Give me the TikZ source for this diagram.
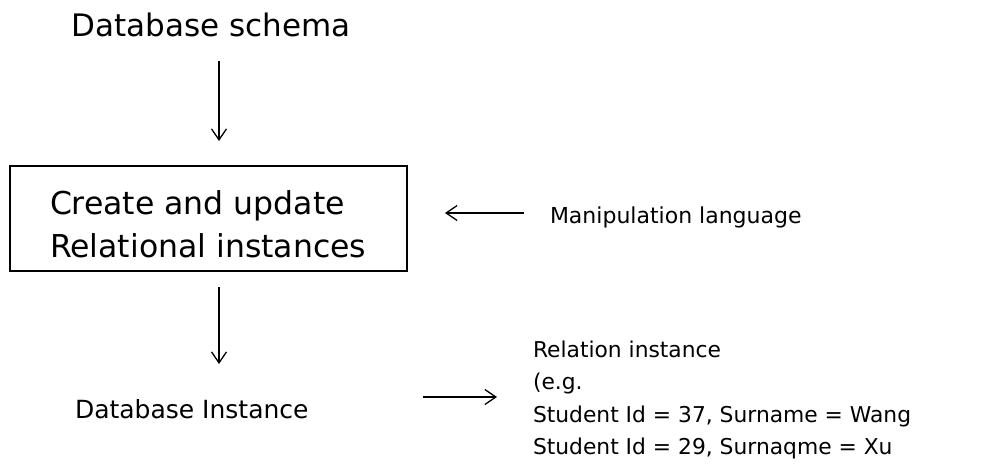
\documentclass[tikz,border=0pt]{standalone}
\usepackage{fontspec}
\setmainfont{DejaVu Sans}
\usetikzlibrary{arrows.meta}
\begin{document}
\begin{tikzpicture}[x=1pt,y=-1pt,
  txt/.style={inner sep=0pt,outer sep=0pt},
  arr/.style={line width=1.3pt,-{Straight Barb[length=11pt,width=15pt,line width=1.3pt]}},
  boxed/.style={draw,line width=2pt,minimum width=397pt,minimum height=105pt,inner sep=0pt}
]
\useasboundingbox (0,0) rectangle (992,465);

% nodes
\node[txt,anchor=base,font=\fontsize{31}{37}\selectfont] (schema) at (211,37) {Database schema};
\node[boxed] (box) at (208.5,218.5) {};
\node[txt,anchor=north west,align=left,font=\fontsize{31.5}{43}\selectfont] (boxtext) at (50,191)
  {Create and update\\Relational instances};
\node[txt,anchor=base west,font=\fontsize{22}{26}\selectfont] (manip) at (550,223) {Manipulation language};
\node[txt,anchor=base west,font=\fontsize{25}{30}\selectfont] (dbi) at (75,418) {Database Instance};
\node[txt,anchor=north west,align=left,font=\fontsize{21.8}{32.3}\selectfont] (rel) at (533,341)
  {Relation instance\\(e.g.\\Student Id = 37, Surname = Wang\\Student Id = 29, Surnaqme = Xu};

% connector guides
\coordinate (vx) at (219,0);
\coordinate (hy1) at (0,213);
\coordinate (hy2) at (0,397);

% connectors
\draw[arr,shorten <=24pt,shorten >=24pt] (schema.south -| vx) -- (box.north -| vx);
\draw[arr,shorten <=26pt,shorten >=37pt] (manip.west |- hy1) -- (box.east |- hy1);
\draw[arr,shorten <=15pt,shorten >=35pt] (box.south -| vx) -- (dbi.north -| vx);
\draw[arr,shorten <=114pt,shorten >=36pt] (dbi.east |- hy2) -- (rel.west |- hy2);
\end{tikzpicture}
\end{document}
